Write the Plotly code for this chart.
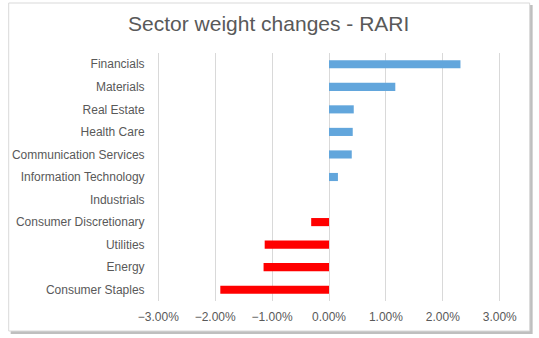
import plotly.graph_objects as go

# Sector weight changes (fraction of portfolio), top to bottom
sectors = [
    "Financials", "Materials", "Real Estate", "Health Care",
    "Communication Services", "Information Technology", "Industrials",
    "Consumer Discretionary", "Utilities", "Energy", "Consumer Staples",
]
weight_change = [
    0.0231, 0.01165, 0.00435, 0.00417,
    0.0040, 0.00157, 0.0,
    -0.00313, -0.0113, -0.0115, -0.0191,
]
x_ticks = [-0.03, -0.02, -0.01, 0.0, 0.01, 0.02, 0.03]

POS = "#62A6DC"
NEG = "#FF0000"
TEXT = "#595959"
GRID = "#D9D9D9"

W, H = 539, 338
L, R, T, B = 152, 37, 53, 37
pw, ph = W - L - R, H - T - B


def px_x(x):
    return (x - L) / pw


def px_y(y):
    return (H - B - y) / ph


fig = go.Figure(
    go.Bar(
        x=weight_change,
        y=sectors,
        orientation="h",
        width=0.36,
        marker=dict(color=[POS if v >= 0 else NEG for v in weight_change], line=dict(width=0)),
        hoverinfo="x+y",
    )
)

# chart frame with a soft drop shadow
fig.add_shape(type="rect", xref="paper", yref="paper", layer="below",
              x0=px_x(5), x1=px_x(533), y0=px_y(334), y1=px_y(5),
              fillcolor="#BFBFBF", line=dict(width=0))
fig.add_shape(type="rect", xref="paper", yref="paper", layer="below",
              x0=px_x(3), x1=px_x(530), y0=px_y(331), y1=px_y(3),
              fillcolor="white", line=dict(color=GRID, width=1))

fig.update_layout(
    width=W, height=H,
    margin=dict(l=L, r=R, t=T, b=B),
    paper_bgcolor="white",
    plot_bgcolor="rgba(0,0,0,0)",
    font=dict(family="Liberation Sans, Arial, sans-serif", size=12, color=TEXT),
    title=dict(
        text="Sector weight changes - RARI",
        x=px_x(266), xanchor="center", xref="paper",
        y=1 - 24 / H, yanchor="middle",
        font=dict(size=21, color=TEXT),
    ),
    showlegend=False,
    bargap=0.64,
)
fig.update_xaxes(
    range=[-0.0304, 0.0304],
    tickvals=x_ticks,
    tickformat=".2%",
    showgrid=True, gridcolor=GRID, gridwidth=1,
    zeroline=True, zerolinecolor=GRID, zerolinewidth=1,
    showline=False,
    ticks="outside", ticklen=5, tickcolor="rgba(0,0,0,0)",
    tickfont=dict(size=12, color=TEXT),
)
fig.update_yaxes(
    categoryorder="array",
    categoryarray=sectors,
    autorange="reversed",
    showgrid=False, showline=False, zeroline=False,
    ticks="outside", ticklen=8, tickcolor="rgba(0,0,0,0)",
    tickfont=dict(size=12, color=TEXT),
)

fig.write_html("out.html")
